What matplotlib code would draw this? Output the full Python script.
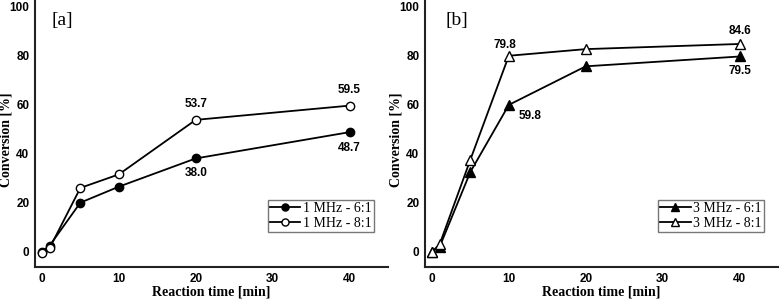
import matplotlib.pyplot as plt

# reaction time [min]
times = [0, 1, 5, 10, 20, 40]

# panel a: 1 MHz
a_61 = [0, 2.5, 20.0, 26.5, 38.0, 48.7]
a_81 = [-0.5, 1.5, 26.0, 31.5, 53.7, 59.5]

# panel b: 3 MHz
b_61 = [0, 2.0, 32.5, 59.8, 75.5, 79.5]
b_81 = [0, 3.0, 37.5, 79.8, 82.5, 84.6]

SANS = 'Liberation Sans'
SERIF = 'Liberation Serif'

fig = plt.figure(figsize=(7.8, 2.99), dpi=100)
ax_a = fig.add_axes([35 / 780, 32 / 299, 353 / 780, 267 / 299])
ax_b = fig.add_axes([425 / 780, 32 / 299, 353 / 780, 267 / 299])


def style_axis(ax, tag, tag_x):
    for s in ['top', 'right']:
        ax.spines[s].set_visible(False)
    for s in ['left', 'bottom']:
        ax.spines[s].set_color('#222222')
        ax.spines[s].set_linewidth(1.5)
    ax.set_xlim(-0.9, 45)
    ax.set_ylim(-6.2, 102.5)
    ax.set_xticks([0, 10, 20, 30, 40])
    ax.set_yticks([0, 20, 40, 60, 80, 100])
    ax.tick_params(length=0, pad=4)
    for lab in ax.get_xticklabels() + ax.get_yticklabels():
        lab.set_fontfamily(SANS)
        lab.set_fontweight('bold')
        lab.set_fontsize(8.5)
    ax.set_xlabel('Reaction time [min]', family=SERIF, weight='bold', fontsize=10, labelpad=1)
    ax.set_ylabel('Conversion [%]', family=SERIF, weight='bold', fontsize=10)
    ax.yaxis.set_label_coords(-0.065, 0.475)
    ax.text(tag_x, 0.955, tag, transform=ax.transAxes, family=SERIF, fontsize=14,
            va='top', ha='left')


def legend(ax):
    leg = ax.legend(loc='lower right', bbox_to_anchor=(0.96, 0.13), prop={'family': SERIF, 'size': 10},
                    fancybox=False, edgecolor='#777777', framealpha=1,
                    borderpad=0.15, labelspacing=0.15, handlelength=2.2,
                    handletextpad=0.2, borderaxespad=0, markerscale=0.85)
    leg.get_frame().set_linewidth(1.0)


# panel a
ax_a.plot(times, a_61, '-o', color='black', lw=1.3, ms=6, mfc='black', mec='black',
          label='1 MHz - 6:1', zorder=3)
ax_a.plot(times, a_81, '-o', color='black', lw=1.3, ms=6, mfc='white', mec='black',
          label='1 MHz - 8:1', zorder=4)
style_axis(ax_a, '[a]', 0.048)
legend(ax_a)
lbl = dict(family=SANS, fontsize=8.5, fontweight='bold', ha='center')
ax_a.text(20, a_81[4] + 4, '53.7', va='bottom', **lbl)
ax_a.text(40, a_81[5] + 4, '59.5', va='bottom', **lbl)
ax_a.text(20, a_61[4] - 3.5, '38.0', va='top', **lbl)
ax_a.text(40, a_61[5] - 4, '48.7', va='top', **lbl)

# panel b
ax_b.plot(times, b_61, '-^', color='black', lw=1.3, ms=7.5, mfc='black', mec='black',
          label='3 MHz - 6:1', zorder=3)
ax_b.plot(times, b_81, '-^', color='black', lw=1.3, ms=7.5, mfc='white', mec='black',
          label='3 MHz - 8:1', zorder=4)
style_axis(ax_b, '[b]', 0.057)
legend(ax_b)
ax_b.text(9.5, b_81[3] + 2, '79.8', va='bottom', **lbl)
ax_b.text(40, b_81[5] + 3, '84.6', va='bottom', **lbl)
ax_b.text(12.8, b_61[3] - 2, '59.8', va='top', **lbl)
ax_b.text(40, b_61[5] - 3.5, '79.5', va='top', **lbl)

fig.savefig('out.png', dpi=100)
